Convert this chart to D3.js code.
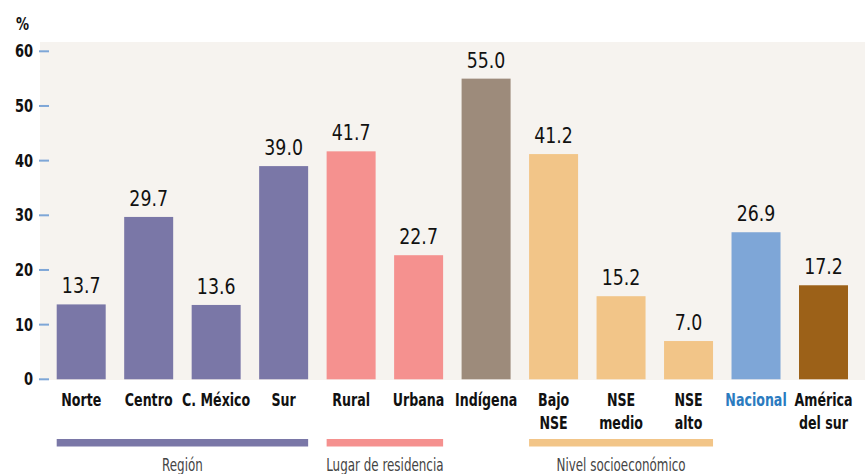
<!DOCTYPE html>
<html>
<head>
<meta charset="utf-8">
<script src="https://cdn.jsdelivr.net/npm/d3@7"></script>
<style>
  body { margin: 0; background: #fff; }
  svg { display: block; font-family: "DejaVu Sans Condensed", "Liberation Sans Narrow", sans-serif; }
</style>
</head>
<body>
<div id="chart"></div>
<script>
// categories, with line breaks for the two-line labels
let categories = ['Norte', 'Centro', 'C. México', 'Sur', 'Rural', 'Urbana', 'Indígena', 'Bajo\nNSE', 'NSE\nmedio', 'NSE\nalto', 'Nacional', 'América\ndel sur']
let values = [13.7, 29.7, 13.6, 39.0, 41.7, 22.7, 55.0, 41.2, 15.2, 7.0, 26.9, 17.2]
let barColors = ['#7a77a7', '#7a77a7', '#7a77a7', '#7a77a7', '#f5918f', '#f5918f', '#9d8b7b', '#f2c588', '#f2c588', '#f2c588', '#7ea6d7', '#9c6118']
let yTicks = [0, 10, 20, 30, 40, 50, 60]

let groups = [
  { name: 'Región', from: 'Norte', to: 'Sur', color: '#7a77a7' },
  { name: 'Lugar de residencia', from: 'Rural', to: 'Urbana', color: '#f5918f' },
  { name: 'Nivel socioeconómico', from: 'Bajo\nNSE', to: 'NSE\nalto', color: '#f2c588' }
]

let width = 865,
  height = 474

// the fonts here are wider than the original condensed face, so squeeze text horizontally
let narrow = 0.78

let svg = d3.select('#chart')
  .append('svg')
  .attr('width', width)
  .attr('height', height)

let x = d3.scaleBand()
  .domain(categories)
  .range([56.7, 848])
  .paddingInner(0.274)
  .paddingOuter(0)

let y = d3.scaleLinear()
  .domain([0, 60])
  .range([379.3, 51.3])

// panel background
svg.append('rect')
  .attr('x', 40)
  .attr('y', 42)
  .attr('width', width - 40)
  .attr('height', 338)
  .attr('fill', '#f6f3ef')

// y axis: little blue dashes and bold labels
let ticks = svg.selectAll('.tick')
  .data(yTicks)
  .enter().append('g')
  .attr('class', 'tick')
  .attr('transform', d => 'translate(0,' + y(d) + ')')

ticks.append('line')
  .attr('x1', 39)
  .attr('x2', 49)
  .attr('stroke', '#7ea6d7')
  .attr('stroke-width', 2)

ticks.append('text')
  .attr('transform', 'translate(33,6) scale(0.85,1)')
  .attr('text-anchor', 'end')
  .attr('font-weight', 'bold')
  .attr('font-size', 17)
  .attr('fill', '#111')
  .text(d => d)

svg.append('text')
  .attr('transform', 'translate(16,30) scale(0.85,1)')
  .attr('font-weight', 'bold')
  .attr('font-size', 17)
  .attr('fill', '#111')
  .text('%')

// bars
svg.selectAll('.bar')
  .data(values)
  .enter().append('rect')
  .attr('class', 'bar')
  .attr('x', (d, i) => x(categories[i]))
  .attr('y', d => y(d))
  .attr('width', x.bandwidth())
  .attr('height', d => y(0) - y(d))
  .attr('fill', (d, i) => barColors[i])

// value labels
svg.selectAll('.value')
  .data(values)
  .enter().append('text')
  .attr('class', 'value')
  .attr('transform', (d, i) => 'translate(' + (x(categories[i]) + x.bandwidth() / 2) + ',' + (y(d) - 11) + ') scale(0.92,1)')
  .attr('text-anchor', 'middle')
  .attr('font-size', 21)
  .attr('fill', '#111')
  .text(d => d.toFixed(1))

// category labels
let catLabels = svg.selectAll('.cat')
  .data(categories)
  .enter().append('text')
  .attr('class', 'cat')
  .attr('transform', d => 'translate(' + (x(d) + x.bandwidth() / 2) + ',406) scale(' + narrow + ',1)')
  .attr('text-anchor', 'middle')
  .attr('font-weight', 'bold')
  .attr('font-size', 18)
  .attr('fill', d => d === 'Nacional' ? '#2b7bbf' : '#111')

catLabels.each(function (d) {
  let lines = d.split('\n')
  d3.select(this).selectAll('tspan')
    .data(lines)
    .enter().append('tspan')
    .attr('x', 0)
    .attr('dy', (l, i) => i === 0 ? 0 : 23)
    .text(l => l)
})

// group bars and names underneath
let grp = svg.selectAll('.group')
  .data(groups)
  .enter().append('g')
  .attr('class', 'group')

grp.append('rect')
  .attr('x', d => x(d.from))
  .attr('y', 439)
  .attr('width', d => x(d.to) + x.bandwidth() - x(d.from))
  .attr('height', 7.5)
  .attr('fill', d => d.color)

grp.append('text')
  .attr('transform', d => 'translate(' + (x(d.from) + x(d.to) + x.bandwidth()) / 2 + ',471) scale(' + narrow + ',1)')
  .attr('text-anchor', 'middle')
  .attr('font-size', 17)
  .attr('fill', '#444')
  .text(d => d.name)
</script>
</body>
</html>
